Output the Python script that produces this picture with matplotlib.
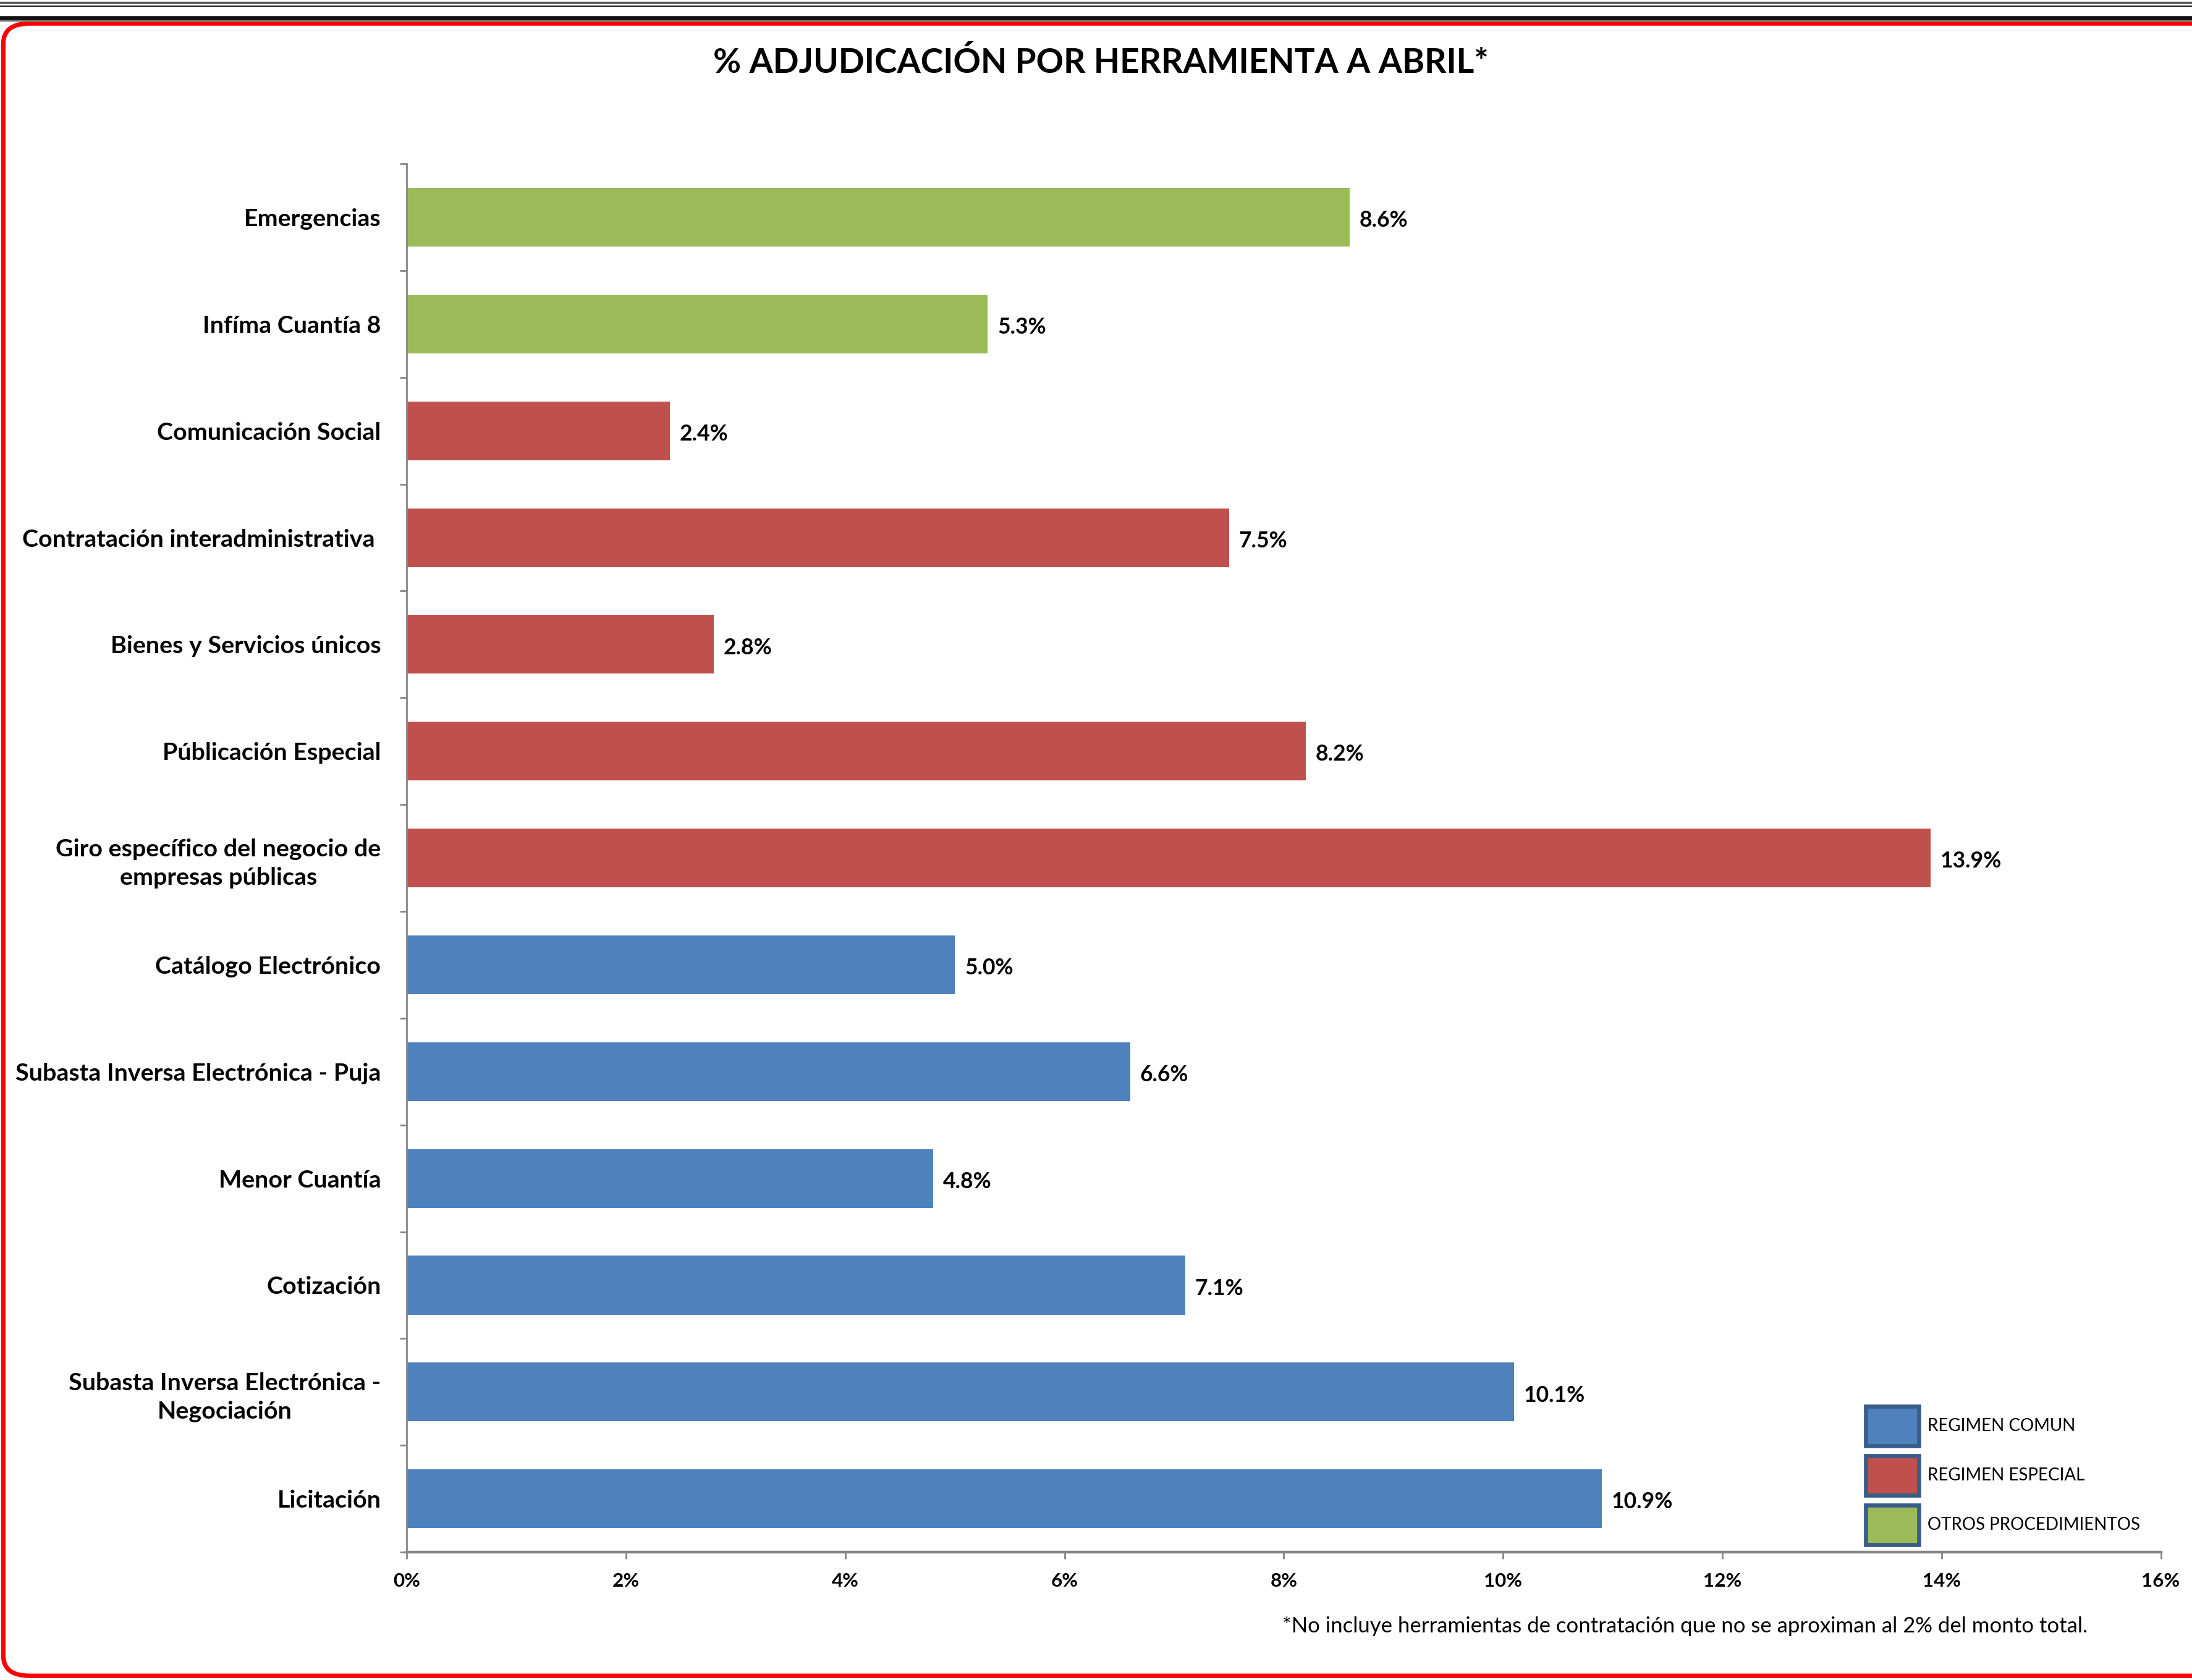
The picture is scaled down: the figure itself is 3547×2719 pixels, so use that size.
import matplotlib
matplotlib.use("Agg")
import matplotlib.pyplot as plt
from matplotlib.patches import Patch, FancyBboxPatch
from matplotlib.lines import Line2D
import numpy as np

plt.rcParams['font.family'] = ['Lato', 'DejaVu Sans']

# Data (top to bottom as shown)
categories = [
    "Emergencias",
    "Infíma Cuantía 8",
    "Comunicación Social",
    "Contratación interadministrativa ",
    "Bienes y Servicios únicos",
    "Públicación Especial",
    "Giro específico del negocio de\nempresas públicas",
    "Catálogo Electrónico",
    "Subasta Inversa Electrónica - Puja",
    "Menor Cuantía",
    "Cotización",
    "Subasta Inversa Electrónica -\nNegociación",
    "Licitación",
]
values = [8.6, 5.3, 2.4, 7.5, 2.8, 8.2, 13.9, 5.0, 6.6, 4.8, 7.1, 10.1, 10.9]
groups = ["OTROS PROCEDIMIENTOS"] * 2 + ["REGIMEN ESPECIAL"] * 5 + ["REGIMEN COMUN"] * 6
group_names = ["REGIMEN COMUN", "REGIMEN ESPECIAL", "OTROS PROCEDIMIENTOS"]
group_colors = {"REGIMEN COMUN": "#4f81bd", "REGIMEN ESPECIAL": "#c0504d",
                "OTROS PROCEDIMIENTOS": "#9bbb59"}
xticks = [0, 2, 4, 6, 8, 10, 12, 14, 16]
xticklabels = ["0%", "2%", "4%", "6%", "8%", "10%", "12%", "14%", "16%"]
title = "% ADJUDICACIÓN POR HERRAMIENTA A ABRIL*"
footnote = "*No incluye herramientas de contratación que no se aproximan al 2% del monto total."

fig = plt.figure(figsize=(3548 / 200, 2719 / 200), dpi=200)
fig.patch.set_facecolor("white")

ax = fig.add_axes([0.1855, 0.0761, 0.8, 0.8264])

n = len(categories)
ypos = np.arange(n)[::-1]
colors = [group_colors[g] for g in groups]
bars = ax.barh(ypos, values, height=0.55, color=colors, edgecolor="none")

for y, v in zip(ypos, values):
    ax.text(v + 0.09, y - 0.03, f"{v:.1f}%", va="center", ha="left",
            fontsize=12.8, fontweight="bold", color="black")

ax.set_xlim(0, 16)
ax.set_ylim(-0.5, n - 0.5)
ax.set_xticks(xticks)
ax.set_xticklabels(xticklabels, fontsize=11.3, fontweight="bold")
ax.set_yticks(ypos)
ax.set_yticklabels(categories, fontsize=14.2, fontweight="bold",
                   multialignment="center", linespacing=1.4)
ax.set_yticks(np.arange(-0.5, n, 1.0), minor=True)
ax.tick_params(axis="y", which="major", length=0, pad=15)
ax.tick_params(axis="y", which="minor", length=4, color="#868686", width=1)
ax.tick_params(axis="x", which="major", length=4, color="#868686", width=1, pad=8)

for s in ["top", "right"]:
    ax.spines[s].set_visible(False)
ax.spines["left"].set_color("#868686")
ax.spines["bottom"].set_color("#868686")
ax.spines["left"].set_linewidth(1)
ax.spines["bottom"].set_linewidth(1.6)

# Legend
handles = [Patch(facecolor=group_colors[g], edgecolor="#385d8a", linewidth=2.4, label=g)
           for g in group_names]
fig.legend(handles=handles, loc="upper left", bbox_to_anchor=(0.851, 0.163),
           frameon=False, fontsize=10, handlelength=3.1, handleheight=3.2,
           labelspacing=0.55, handletextpad=0.5, borderpad=0, borderaxespad=0)

# Title and footnote
fig.text(0.502, 0.963, title, ha="center", va="center", fontsize=19.8, fontweight="bold")
fig.text(0.952, 0.032, footnote, ha="right", va="center", fontsize=12.5)

# Decorative frame
border = FancyBboxPatch((0.0015, 0.0025), 1.05, 0.986 - 0.0025,
                        boxstyle="round,pad=0,rounding_size=0.012",
                        transform=fig.transFigure, facecolor="none",
                        edgecolor="#ff0000", linewidth=2.6, zorder=0)
fig.add_artist(border)
fig.add_artist(Line2D([0, 1], [0.9985, 0.9985], transform=fig.transFigure,
                      color="#555555", linewidth=1.2))
fig.add_artist(Line2D([0, 1], [0.9965, 0.9965], transform=fig.transFigure,
                      color="#222222", linewidth=0.8))
fig.add_artist(Line2D([0, 1], [0.9895, 0.9895], transform=fig.transFigure,
                      color="#111111", linewidth=2.4))
fig.add_artist(Line2D([0, 1], [0.9875, 0.9875], transform=fig.transFigure,
                      color="#888888", linewidth=0.8))

fig.savefig("out.png", dpi=200, facecolor="white")
